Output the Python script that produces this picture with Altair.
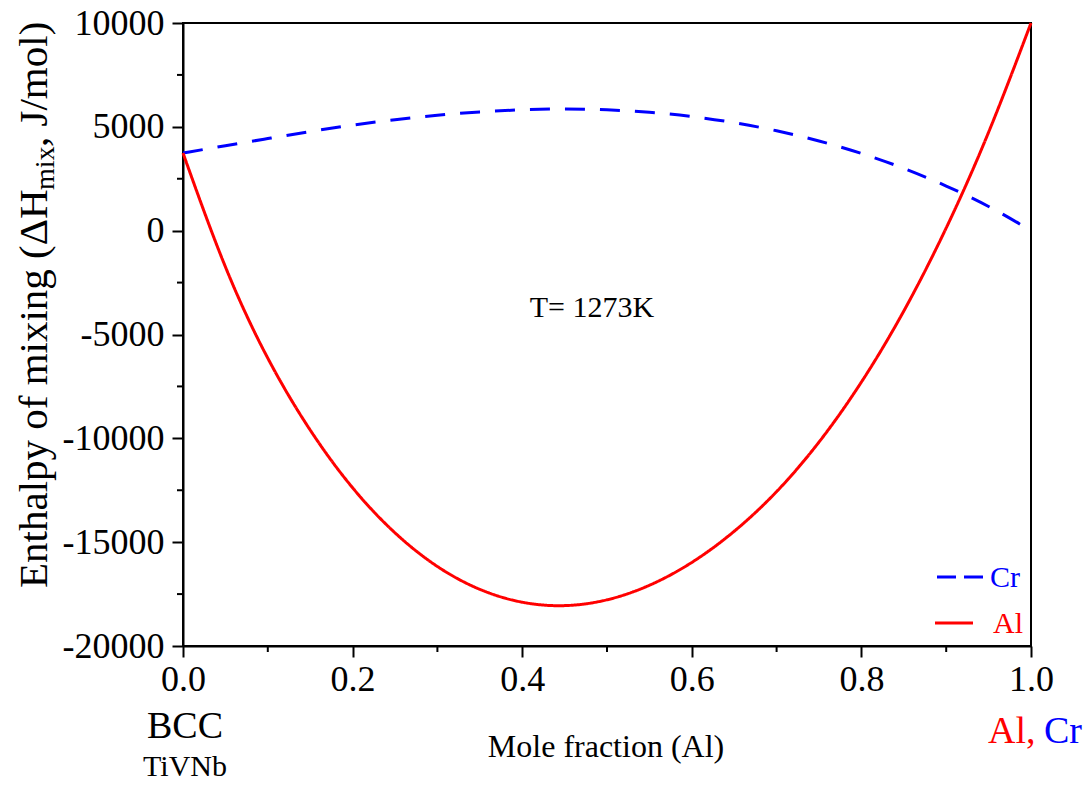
import altair as alt
import pandas as pd

# ---------------- data ----------------
x_frac = [0.0, 0.05, 0.1, 0.15, 0.2, 0.25, 0.3, 0.35, 0.4, 0.45, 0.5,
          0.55, 0.6, 0.65, 0.7, 0.75, 0.8, 0.85, 0.9, 0.95, 1.0]
al_enthalpy = [3740, -1740, -6140, -9600, -12380, -14550, -16170, -17270, -17890, -18055, -17775,
               -17075, -15975, -14475, -12565, -10180, -7290, -3870, 130, 4740, 10000]
cr_enthalpy = [3740, 4090, 4435, 4775, 5085, 5345, 5560, 5720, 5820, 5860, 5820,
               5700, 5495, 5200, 4810, 4320, 3720, 3000, 2150, 1165, 0]
series_names = ["Cr", "Al"]
series_colors = ["#0000ff", "#ff0000"]

x_major = [0.0, 0.2, 0.4, 0.6, 0.8, 1.0]
x_minor = [0.1, 0.3, 0.5, 0.7, 0.9]
y_major = [-20000, -15000, -10000, -5000, 0, 5000, 10000]
y_minor = [-17500, -12500, -7500, -2500, 2500, 7500]

y_title_parts = ["Enthalpy of mixing (ΔH", "mix", ", J/mol)"]
x_title = "Mole fraction (Al)"
temp_label = "T= 1273K"
left_labels = ["BCC", "TiVNb"]
right_labels = ["Al,", "Cr"]

FONT = "Liberation Serif"
W, H = 848, 623

n = len(x_frac)
df = pd.DataFrame({
    "x": x_frac + x_frac,
    "H": cr_enthalpy + al_enthalpy,
    "series": ["Cr"] * n + ["Al"] * n,
})

xs = alt.Scale(domain=[0, 1], nice=False, zero=False)
ys = alt.Scale(domain=[-20000, 10000], nice=False, zero=False)
axis_style = dict(labelFont=FONT, labelFontSize=36, labelColor="black", labelFlush=False,
                  domainColor="black", domainWidth=2, tickColor="black", tickWidth=2,
                  tickSize=11, grid=False, title=None)
x_axis = alt.Axis(values=x_major, format=".1f", orient="bottom", labelPadding=5, **axis_style)
y_axis = alt.Axis(values=y_major, labelExpr="'' + datum.value", orient="left",
                  labelPadding=8, **axis_style)

lines = alt.Chart(df).mark_line(strokeWidth=3, interpolate="natural").encode(
    x=alt.X("x:Q", scale=xs, axis=x_axis),
    y=alt.Y("H:Q", scale=ys, axis=y_axis),
    color=alt.Color("series:N", scale=alt.Scale(domain=series_names, range=series_colors), legend=None),
    strokeDash=alt.StrokeDash("series:N",
                              scale=alt.Scale(domain=series_names, range=[[20, 15], [1, 0]]),
                              legend=None),
    order=alt.Order("x:Q"),
)

xminor = alt.Chart(pd.DataFrame({"x": x_minor})).mark_rule(color="black", strokeWidth=2).encode(
    x=alt.X("x:Q", scale=xs, axis=x_axis),
    y=alt.value(H), y2=alt.value(H + 6),
)
yminor = alt.Chart(pd.DataFrame({"H": y_minor})).mark_rule(color="black", strokeWidth=2).encode(
    y=alt.Y("H:Q", scale=ys, axis=y_axis),
    x=alt.value(-6), x2=alt.value(0),
)


def txt(s, x, y, size, color="black", align="center", angle=0, baseline="alphabetic"):
    kw = dict(font=FONT, fontSize=size, color=color, align=align, baseline=baseline)
    if angle:
        kw["angle"] = angle
    return alt.Chart(pd.DataFrame({"t": [s]})).mark_text(**kw).encode(
        text="t:N", x=alt.value(x), y=alt.value(y))


texts = [
    txt(y_title_parts[0], -136, 565, 41, align="left", angle=270),
    txt(y_title_parts[1], -129, 167, 28, align="left", angle=270),
    txt(y_title_parts[2], -136, 124, 41, align="left", angle=270),
    txt(x_title, 423, 734, 32),
    txt(temp_label, 409, 294, 30),
    txt(left_labels[0], 2, 715, 38),
    txt(left_labels[1], 2, 753, 30),
    txt(right_labels[0], 805, 720, 38, color="#ff0000", align="left"),
    txt(right_labels[1], 899, 720, 38, color="#0000ff", align="right"),
]

# legend (manual, positioned in the lower-right corner)
leg_cr_line = alt.Chart(pd.DataFrame({"s": ["Cr"]})).mark_rule(
    color="#0000ff", strokeWidth=3, strokeDash=[19, 8]).encode(
    x=alt.value(754), x2=alt.value(800), y=alt.value(554))
leg_al_line = alt.Chart(pd.DataFrame({"s": ["Al"]})).mark_rule(
    color="#ff0000", strokeWidth=3).encode(
    x=alt.value(752), x2=alt.value(790), y=alt.value(600))
leg_texts = [
    txt("Cr", 807, 564, 30, color="#0000ff", align="left"),
    txt("Al", 810, 610, 30, color="#ff0000", align="left"),
]

chart = alt.layer(
    lines, xminor, yminor, leg_cr_line, leg_al_line, *texts, *leg_texts
).properties(
    width=W, height=H,
    padding={"left": 175, "top": 15, "right": 52, "bottom": 137},
    autosize=alt.AutoSizeParams(type="none"),
).configure_view(
    stroke="black", strokeWidth=2,
).configure_axis(
    labelFont=FONT,
)

chart.save("out.html", embed_options={"renderer": "svg", "actions": False})
